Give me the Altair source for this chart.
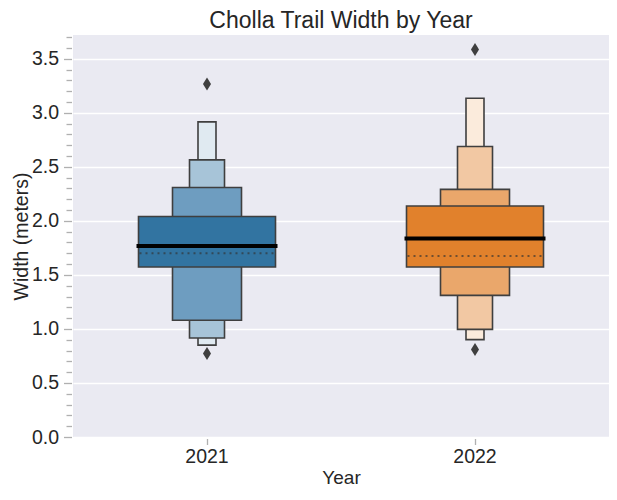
import altair as alt
import pandas as pd

# ---- data ----
years = ["2021", "2022"]
levels = [1, 2, 3, 4]
lo_2021 = [1.573, 1.081, 0.916, 0.850]
hi_2021 = [2.041, 2.309, 2.564, 2.916]
lo_2022 = [1.573, 1.311, 0.996, 0.901]
hi_2022 = [2.138, 2.291, 2.688, 3.135]
medians = [1.767, 1.838]
means = [1.701, 1.676]
outlier_years = ["2021", "2021", "2022", "2022"]
outlier_vals = [3.266, 0.773, 3.586, 0.810]
y_ticks = [round(i * 0.1, 1) for i in range(38)]

# ---- styles ----
blue_shades = ["#3274A1", "#6E9DC0", "#A7C4D8", "#E0EAF1"]
orange_shades = ["#E1812C", "#EAA76B", "#F2C8A3", "#FBEBDC"]
level_widths = {1: 137, 2: 69, 3: 35, 4: 18}
edge = "#3f3f3f"
FONT = "Liberation Sans"
TXT = "#262626"
LBL = 19.5
PLOT_W, PLOT_H = 536, 402

rows = []
for y, los, his in [("2021", lo_2021, hi_2021), ("2022", lo_2022, hi_2022)]:
    for k, lo, hi in zip(levels, los, his):
        rows.append({"year": y, "level": k, "lo": lo, "hi": hi, "key": f"{y}-{k}"})
boxes = pd.DataFrame(rows)
stats = pd.DataFrame({"year": years, "median": medians, "mean": means})
outs = pd.DataFrame({"year": outlier_years, "val": outlier_vals})

color_domain = [f"2021-{k}" for k in levels] + [f"2022-{k}" for k in levels]
color_range = blue_shades + orange_shades

major = "abs(datum.value*2 - round(datum.value*2)) < 1e-6"

x_enc = alt.X(
    "year:N",
    title="Year",
    scale=alt.Scale(domain=years, paddingInner=0, paddingOuter=0),
    axis=alt.Axis(
        labelAngle=0, domain=False, grid=False, tickSize=6, tickColor="#b0b0b0",
        tickWidth=1.3, offset=1.5, labelFontSize=LBL, labelFont=FONT, labelColor=TXT,
        labelPadding=3, titleFontSize=19, titleFont=FONT, titleColor=TXT,
        titleFontWeight="normal", titlePadding=2,
    ),
)
y_scale = alt.Scale(domain=[0, 3.72], nice=False, zero=True)
y_axis = alt.Axis(
    values=y_ticks,
    labelExpr=f"{major} ? format(datum.value, '.1f') : ''",
    domain=False,
    tickColor="#b0b0b0",
    tickWidth=1.3,
    tickSize={"condition": {"test": major, "value": 8}, "value": 5.5},
    gridColor="white",
    gridWidth=1.3,
    gridOpacity={"condition": {"test": major, "value": 1}, "value": 0},
    offset=1.5,
    labelFontSize=LBL, labelFont=FONT, labelColor=TXT, labelPadding=5,
    title="Width (meters)", titleFontSize=LBL, titleFont=FONT, titleColor=TXT,
    titleFontWeight="normal", titleAngle=270, titleAlign="center",
    titleBaseline="bottom", titleX=-40, titleY=PLOT_H / 2,
)

layers = []
for k in [4, 3, 2, 1]:
    layers.append(
        alt.Chart(boxes)
        .transform_filter(alt.datum.level == k)
        .mark_bar(width=level_widths[k], stroke=edge, strokeWidth=1.6, opacity=1)
        .encode(
            x=x_enc,
            y=alt.Y("lo:Q", scale=y_scale, axis=y_axis),
            y2="hi:Q",
            fill=alt.Fill("key:N", scale=alt.Scale(domain=color_domain, range=color_range), legend=None),
        )
    )

hline = "M-1,0L1,0"
mean_layer = alt.Chart(stats).mark_point(
    shape=hline, size=135 ** 2, filled=False, stroke="#333333", strokeOpacity=0.65,
    strokeWidth=2, strokeDash=[2, 4], opacity=1,
).encode(x=x_enc, y=alt.Y("mean:Q", scale=y_scale, axis=y_axis))

median_layer = alt.Chart(stats).mark_point(
    shape=hline, size=141 ** 2, filled=False, stroke="black", strokeWidth=4, opacity=1,
).encode(x=x_enc, y=alt.Y("median:Q", scale=y_scale, axis=y_axis))

out_layer = alt.Chart(outs).mark_point(
    shape="M0,-1L0.62,0L0,1L-0.62,0Z", size=13 ** 2, filled=True, fill=edge,
    strokeWidth=0, opacity=1,
).encode(x=x_enc, y=alt.Y("val:Q", scale=y_scale, axis=y_axis))

chart = (
    alt.layer(*layers, mean_layer, median_layer, out_layer)
    .properties(
        width=PLOT_W, height=PLOT_H,
        autosize=alt.AutoSizeParams(type="none"),
        padding={"left": 65, "top": 27, "right": 0, "bottom": 55},
        title=alt.Title(
            "Cholla Trail Width by Year", fontSize=23, font=FONT, fontWeight="normal",
            color=TXT, anchor="middle", frame="group", offset=2,
        ),
    )
    .configure(background="white")
    .configure_view(fill="#EAEAF2", stroke=None)
)

chart.save("out.html", embed_options={"renderer": "svg", "actions": False})
